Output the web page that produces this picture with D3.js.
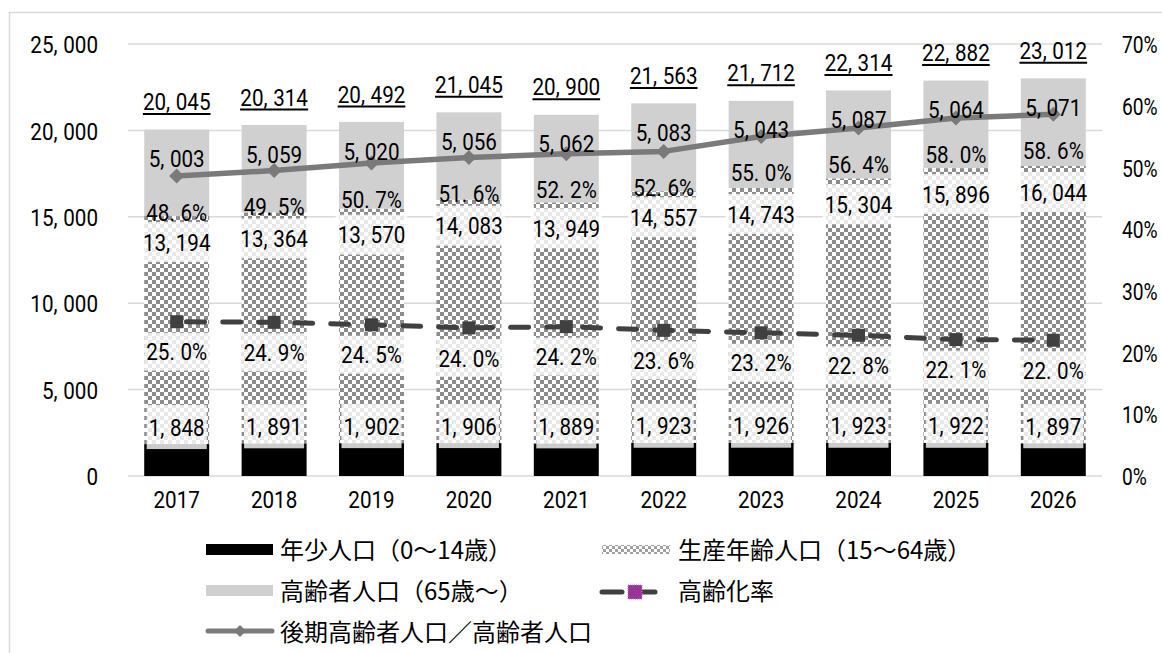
<!DOCTYPE html>
<html><head><meta charset="utf-8">
<script src="https://cdn.jsdelivr.net/npm/d3@7"></script>
<style>body{margin:0;background:#fff}svg{display:block}</style>
</head><body>
<svg id="c" width="1162" height="653"></svg>
<script>
// ---- data ----
const years = ["2017","2018","2019","2020","2021","2022","2023","2024","2025","2026"];
const youngPop = [1848,1891,1902,1906,1889,1923,1926,1923,1922,1897];
const workingPop = [13194,13364,13570,14083,13949,14557,14743,15304,15896,16044];
const elderlyPop = [5003,5059,5020,5056,5062,5083,5043,5087,5064,5071];
const totalPop = [20045,20314,20492,21045,20900,21563,21712,22314,22882,23012];
const lateElderlyRatio = [48.6,49.5,50.7,51.6,52.2,52.6,55.0,56.4,58.0,58.6];
const agingRate = [25.0,24.9,24.5,24.0,24.2,23.6,23.2,22.8,22.1,22.0];
const leftTicks = [0,5000,10000,15000,20000,25000];
const rightTicks = [0,10,20,30,40,50,60,70];
const seriesNames = ["年少人口（0～14歳）","生産年齢人口（15～64歳）","高齢者人口（65歳～）","高齢化率","後期高齢者人口／高齢者人口"];

// ---- setup ----
const NUMF = "Roboto,'Liberation Sans',Arial,sans-serif";
const JPF = "'Noto Sans CJK JP','Noto Sans',sans-serif";
const FS = 24;
const SX = 0.86;
const GAP = 6.5; // extra space after comma / decimal point (unscaled units)
const svg = d3.select("#c");
svg.append("rect").attr("x",9.5).attr("y",12.5).attr("width",1200).attr("height",700)
  .attr("fill","#fff").attr("stroke","#d9d9d9").attr("stroke-width",1.5);

const defs = svg.append("defs");
function checker(id, c, dark, light){
  const p = defs.append("pattern").attr("id",id).attr("patternUnits","userSpaceOnUse")
    .attr("width",2*c).attr("height",2*c);
  p.append("rect").attr("width",2*c).attr("height",2*c).attr("fill",light);
  p.append("rect").attr("width",c).attr("height",c).attr("fill",dark);
  p.append("rect").attr("x",c).attr("y",c).attr("width",c).attr("height",c).attr("fill",dark);
}
checker("chk",4,"#8c8c8c","#ffffff");
checker("chkS",3,"#a0a0a0","#ffffff");

const x = d3.scaleBand().domain(years).range([128,1102]).paddingInner(0.333).paddingOuter(0.1665);
const bw = x.bandwidth();
const cx = d => x(d) + bw/2;
const yL = d3.scaleLinear().domain([0,25000]).range([476,44]);
const yR = d3.scaleLinear().domain([0,70]).range([476,44]);
const fmt = d3.format(",");

// write a number string into a text element, widening the gap after , or .
function numText(t, str){
  t.text(null);
  const m = str.match(/^([^,.]*[,.])(.*)$/);
  if(!m){ t.text(str); return; }
  t.append("tspan").text(m[1]);
  t.append("tspan").attr("dx",GAP).text(m[2]);
}

// gridlines
svg.append("g").selectAll("line").data(leftTicks).join("line")
  .attr("x1",128).attr("x2",1102).attr("y1",d=>yL(d)).attr("y2",d=>yL(d))
  .attr("stroke","#d9d9d9").attr("stroke-width",1.5);

function styleAxisText(g, dy, sx){
  g.select(".domain").remove();
  g.selectAll("text").attr("font-family",NUMF).attr("font-size",FS).attr("fill","#000")
    .attr("dy",dy).attr("transform",`scale(${sx},1)`)
    .each(function(){ const s = this.textContent; numText(d3.select(this), s); });
}
const axL = d3.axisLeft(yL).tickValues(leftTicks).tickFormat(fmt).tickSize(0).tickPadding(0);
styleAxisText(svg.append("g").attr("transform","translate(98,0)").call(axL), "0.36em", SX);
const axR = d3.axisRight(yR).tickValues(rightTicks).tickFormat(d=>d+"%").tickSize(0).tickPadding(0);
styleAxisText(svg.append("g").attr("transform","translate(1122,0)").call(axR), "0.36em", 0.8);
const axB = d3.axisBottom(x).tickSize(0).tickPadding(0);
styleAxisText(svg.append("g").attr("transform","translate(0,491)").call(axB), "0.71em", SX);

// stacked bars
const rows = years.map((y,i)=>({year:y, young:youngPop[i], working:workingPop[i], elderly:elderlyPop[i]}));
const keys = ["young","working","elderly"];
const fills = {young:"#000000", working:"url(#chk)", elderly:"#d0d0d0"};
const stacked = d3.stack().keys(keys)(rows);
svg.append("g").selectAll("g").data(stacked).join("g").attr("fill",s=>fills[s.key])
  .selectAll("rect").data(s=>s).join("rect")
  .attr("x",d=>x(d.data.year)).attr("width",bw)
  .attr("y",d=>yL(d[1])).attr("height",d=>yL(d[0])-yL(d[1]));

// label helpers
const boxLayer = svg.append("g");
const lineLayer = svg.append("g");
const textLayer = svg.append("g");
function addLabel(xc, yc, txt, opt={}){
  const t = textLayer.append("text").attr("transform",`translate(${xc},${yc}) scale(${SX},1)`)
    .attr("dy","0.36em").attr("text-anchor","middle").attr("font-family",NUMF)
    .attr("font-size",FS).attr("fill","#000");
  numText(t, txt);
  const w = t.node().getBBox().width * SX;
  if(opt.box){
    boxLayer.append("rect").attr("x",xc-w/2-2).attr("y",yc-opt.box/2).attr("width",w+4).attr("height",opt.box)
      .attr("fill","#fff").attr("fill-opacity",0.8);
  }
  if(opt.underline){
    textLayer.append("line").attr("x1",xc-w/2).attr("x2",xc+w/2)
      .attr("y1",yc+12.5).attr("y2",yc+12.5).attr("stroke","#000").attr("stroke-width",2);
  }
}

// lines
const lineGen = d3.line().x((d,i)=>cx(years[i])).y(d=>yR(d));
lineLayer.append("path").datum(lateElderlyRatio).attr("d",lineGen).attr("fill","none")
  .attr("stroke","#7a7a7a").attr("stroke-width",5.5).attr("stroke-linejoin","round");
lineLayer.selectAll(".dia").data(lateElderlyRatio).join("path").attr("class","dia")
  .attr("transform",(d,i)=>`translate(${cx(years[i])},${yR(d)})`)
  .attr("d","M0,-7.5L7.5,0L0,7.5L-7.5,0Z").attr("fill","#7a7a7a");

lineLayer.append("path").datum(agingRate).attr("d",lineGen).attr("fill","none")
  .attr("stroke","#404040").attr("stroke-width",5).attr("stroke-linecap","round")
  .attr("stroke-dasharray","18,18").attr("stroke-dashoffset",-10);
lineLayer.selectAll(".sq").data(agingRate).join("rect").attr("class","sq")
  .attr("x",(d,i)=>cx(years[i])-6.5).attr("y",d=>yR(d)-6.5).attr("width",13).attr("height",13)
  .attr("fill","#404040");

// data labels
years.forEach((yr,i)=>{
  const c = cx(yr);
  addLabel(c, yL(totalPop[i]) - 28, fmt(totalPop[i]), {underline:true});
  addLabel(c, yL(totalPop[i]) + 29, fmt(elderlyPop[i]));
  addLabel(c, yR(lateElderlyRatio[i]) + 36, lateElderlyRatio[i].toFixed(1)+"%");
  addLabel(c, yL(youngPop[i]+workingPop[i]) + 26, fmt(workingPop[i]), {box:40});
  addLabel(c, yR(agingRate[i]) + 30, agingRate[i].toFixed(1)+"%", {box:38});
  addLabel(c, yL(youngPop[i]) - 17, fmt(youngPop[i]), {box:44});
});

// legend
const lg = svg.append("g");
function legText(xp, yp, txt){
  lg.append("text").attr("x",xp).attr("y",yp).attr("dy","0.36em").attr("font-family",JPF)
    .attr("font-size",24).attr("fill","#000").text(txt);
}
lg.append("rect").attr("x",206).attr("y",544).attr("width",67).attr("height",11).attr("fill","#000");
legText(280,550,seriesNames[0]);
lg.append("rect").attr("x",602).attr("y",545).attr("width",68).attr("height",9).attr("fill","url(#chkS)");
legText(678,550,seriesNames[1]);
lg.append("rect").attr("x",206).attr("y",585).attr("width",67).attr("height",11).attr("fill","#d0d0d0");
legText(280,591,seriesNames[2]);
lg.append("line").attr("x1",602).attr("x2",667).attr("y1",592).attr("y2",592)
  .attr("stroke","#404040").attr("stroke-width",5).attr("stroke-linecap","round").attr("stroke-dasharray","20,13");
lg.append("rect").attr("x",628).attr("y",585).attr("width",14).attr("height",14)
  .attr("fill","#993399").attr("stroke","#c080c0").attr("stroke-width",1).attr("stroke-dasharray","1,1");
legText(678,591,seriesNames[3]);
lg.append("line").attr("x1",208).attr("x2",272).attr("y1",631).attr("y2",631)
  .attr("stroke","#7a7a7a").attr("stroke-width",5).attr("stroke-linecap","round");
lg.append("path").attr("transform","translate(240,631)").attr("d","M0,-6L6,0L0,6L-6,0Z").attr("fill","#7a7a7a");
legText(280,632,seriesNames[4]);
</script>
</body></html>
